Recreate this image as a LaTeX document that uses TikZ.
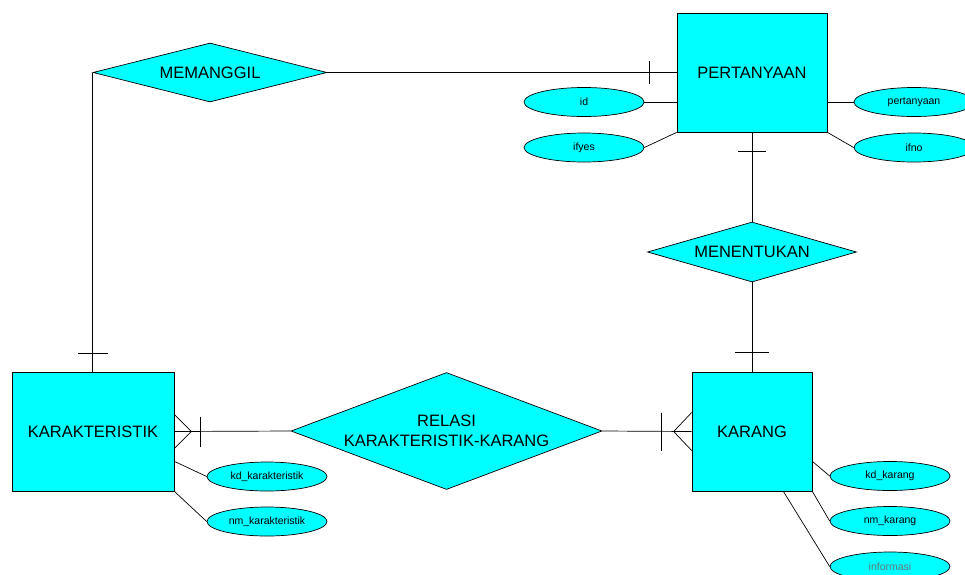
\documentclass[tikz,border=0pt]{standalone}
\usepackage{fontspec}
\setmainfont{Liberation Sans}
\usetikzlibrary{shapes.geometric,calc}
\definecolor{erfill}{RGB}{0,255,255}
\definecolor{dimtext}{RGB}{100,120,120}
\begin{document}
\begin{tikzpicture}[x=1pt,y=-1pt,
  every node/.style={font=\fontsize{16.5}{20}\selectfont},
  entity/.style={draw=black, fill=erfill, line width=0.7pt, inner sep=0},
  rel/.style={draw=black, fill=erfill, diamond, inner sep=0, line width=0.7pt},
  attr/.style={draw=black, fill=erfill, ellipse, minimum width=120pt, minimum height=29pt,
               inner sep=0, line width=0.7pt, font=\fontsize{10.5}{12}\selectfont},
  conn/.style={draw=black, line width=0.7pt}]
\useasboundingbox (0,0) rectangle (965,574);

% entities
\node[entity, minimum width=150pt, minimum height=119pt] (P)  at (752,72.5)  {PERTANYAAN};
\node[entity, minimum width=162pt, minimum height=119pt] (K)  at (93,431.5)  {KARAKTERISTIK};
\node[entity, minimum width=120pt, minimum height=119pt] (KR) at (752,431.5) {KARANG};

% relationships
\node[rel, minimum width=234pt, minimum height=59pt] (M)  at (210,72.5) {};
\node at (M) {MEMANGGIL};
\node[rel, minimum width=209pt, minimum height=60pt] (MN) at (752,252) {};
\node at (MN) {MENENTUKAN};
\node[rel, minimum width=311pt, minimum height=117pt] (R)  at (446.5,431) {};
\node[align=center] at (R) {RELASI\\KARAKTERISTIK-KARANG};

% attributes
\node[attr] (id)    at (584,102)   {id};
\node[attr] (ifyes) at (584,147.5) {ifyes};
\node[attr] (pert)  at (914,102)   {pertanyaan};
\node[attr] (ifno)  at (914,147.5) {ifno};
\node[attr] (kdk)   at (267,476.5) {kd\_karakteristik};
\node[attr] (nmk)   at (267,521.5) {nm\_karakteristik};
\node[attr] (kdkr)  at (890,476)   {kd\_karang};
\node[attr] (nmkr)  at (890,521)   {nm\_karang};
\node[attr, text=dimtext] (info) at (890,566.5) {informasi};

% attribute links
\draw[conn] (id.east) -- (id.east -| P.west);
\draw[conn] (ifyes.east) -- (P.south west);
\draw[conn] (pert.west) -- (pert.west -| P.east);
\draw[conn] (ifno.west) -- (P.south east);
\draw[conn] ([yshift=30pt]K.south east) -- (kdk.west);
\draw[conn] (K.south east) -- (nmk.west);
\draw[conn] ([yshift=30pt]KR.south east) -- (kdkr.west);
\draw[conn] (KR.south east) -- (nmkr.west);
\draw[conn] ([xshift=-29pt]KR.south east) -- (info.west);

% MEMANGGIL: one-to-one between PERTANYAAN and KARAKTERISTIK
\draw[conn] (M.east) -- (M.east -| P.west);
\draw[conn] ([xshift=-27pt]M.east -| P.west) ++(0,-11.5) -- ++(0,23);
\draw[conn] (M.west) -- (M.west |- K.north);
\draw[conn] ([yshift=18pt]K.north) ++(-15,0) -- ++(30,0);

% MENENTUKAN: one-to-one between PERTANYAAN and KARANG
\draw[conn] (P.south) -- (MN.north);
\draw[conn] ([yshift=-19pt]P.south) ++(-14,0) -- ++(28,0);
\draw[conn] (MN.south) -- (KR.north);
\draw[conn] ([yshift=19pt]KR.north) ++(-17,0) -- ++(34,0);

% RELASI: many-to-many between KARAKTERISTIK and KARANG
\draw[conn] (K.east) -- (R.west);
\coordinate (ck) at ([xshift=17pt]K.east);
\draw[conn] ([yshift=17pt]K.east) -- (ck) -- ([yshift=-17pt]K.east);
\draw[conn] ([xshift=26pt]K.east) ++(0,-15) -- ++(0,30);
\draw[conn] (R.east) -- (KR.west);
\coordinate (ckr) at ([xshift=-18pt]KR.west);
\draw[conn] ([yshift=19pt]KR.west) -- (ckr) -- ([yshift=-19pt]KR.west);
\draw[conn] ([xshift=-30pt]KR.west) ++(0,-19) -- ++(0,38);
\end{tikzpicture}
\end{document}
